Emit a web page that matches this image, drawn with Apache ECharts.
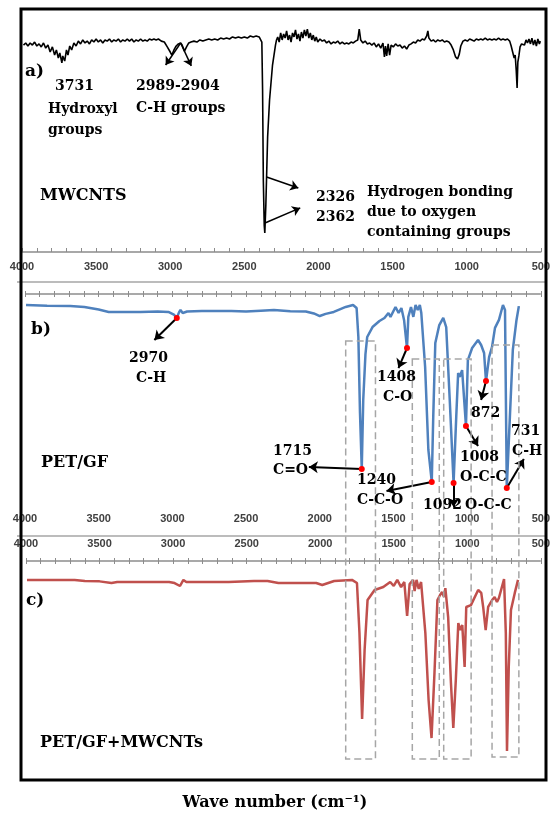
<!DOCTYPE html>
<html><head><meta charset="utf-8">
<script src="https://cdn.jsdelivr.net/npm/echarts@6/dist/echarts.min.js"></script>
<style>html,body{margin:0;padding:0;background:#fff}#c{width:553px;height:816px}</style>
</head><body><div id="c"></div>
<script>
// ---------- DATA ----------
const waveMin = 500, waveMax = 4000, waveStep = 500;

// a) MWCNTs  [wavenumber, transmittance]
const mwcnts = [
[3990,89.2],[3975,90.1],[3960,88.8],[3945,90.1],[3930,89.2],[3915,90.5],[3900,88.8],[3885,89.7],[3870,88.4],[3855,90.1],
[3840,87.9],[3825,89.2],[3810,86.2],[3795,88.4],[3780,84.9],[3768,87.1],[3755,83.6],[3745,85.8],[3731,81.5],[3725,84.5],
[3712,82.3],[3700,87.1],[3690,84.9],[3678,88.8],[3665,87.1],[3650,90.1],[3635,88.8],[3620,90.9],[3605,89.7],[3590,91.4],
[3575,90.1],[3560,90.9],[3545,89.7],[3530,91.4],[3515,90.5],[3500,91.8],[3485,90.5],[3470,91.4],[3455,90.1],[3440,91.4],
[3425,90.9],[3410,91.8],[3395,90.5],[3380,91.4],[3365,90.9],[3350,91.8],[3335,90.5],[3320,91.4],[3305,90.9],[3290,91.8],
[3275,90.9],[3260,91.8],[3245,90.5],[3230,91.4],[3215,90.9],[3200,91.8],[3185,90.9],[3170,91.4],[3155,90.9],[3140,91.8],
[3125,91.4],[3110,91.8],[3095,91.4],[3080,91.8],[3060,90.9],[3040,90.5],[3020,88.4],[3000,86.2],[2989,84.9],[2975,87.1],
[2960,88.8],[2945,89.7],[2930,90.1],[2920,89.2],[2904,86.6],[2890,88.4],[2875,90.1],[2860,90.5],[2840,90.9],[2820,90.5],
[2800,91.4],[2780,90.9],[2760,91.4],[2740,91.8],[2720,91.4],[2700,91.8],[2680,91.4],[2660,92.2],[2640,91.8],[2620,92.2],
[2600,91.8],[2580,92.7],[2560,92.2],[2540,92.7],[2520,92.2],[2500,92.7],[2480,92.2],[2460,93.1],[2440,92.7],[2420,93.1],
[2400,92.7],[2388,92.2],[2382,90.5],[2377,69.8],[2372,31.0],[2366,11.6],[2362,8.2],[2355,20.3],[2350,32.3],[2343,49.6],
[2330,65.5],[2310,80.6],[2290,89.2],[2283,91.4],[2275,92.7],[2265,90.5],[2255,94.4],[2245,91.4],[2235,94.0],[2225,92.2],
[2215,95.3],[2205,91.4],[2195,93.5],[2185,90.5],[2175,94.4],[2165,92.7],[2155,95.7],[2145,91.8],[2135,94.0],[2125,90.9],
[2115,94.8],[2105,92.2],[2095,95.7],[2085,93.1],[2075,96.1],[2065,92.2],[2055,94.4],[2045,91.4],[2035,93.5],[2025,90.9],
[2015,92.7],[2005,90.5],[1990,91.8],[1975,90.9],[1960,91.4],[1945,90.1],[1930,90.9],[1915,89.7],[1900,90.5],[1885,90.1],
[1870,90.9],[1855,89.7],[1840,90.5],[1825,89.7],[1810,90.1],[1795,89.7],[1780,90.5],[1765,90.1],[1750,90.9],[1735,91.4],
[1725,96.1],[1715,91.4],[1700,90.1],[1685,90.9],[1670,89.7],[1655,90.1],[1640,89.2],[1625,90.1],[1610,88.4],[1595,89.7],
[1580,87.9],[1565,90.1],[1555,84.1],[1548,88.8],[1540,84.5],[1530,89.7],[1520,84.9],[1510,89.2],[1495,88.4],[1480,89.7],
[1465,88.8],[1450,89.2],[1435,87.9],[1420,88.8],[1405,87.5],[1390,89.2],[1375,89.7],[1360,90.5],[1345,90.1],[1330,91.4],
[1315,90.9],[1300,91.8],[1285,91.4],[1270,93.1],[1262,95.3],[1255,92.2],[1240,90.9],[1225,91.4],[1210,90.5],[1195,91.4],
[1180,90.9],[1165,91.4],[1150,90.5],[1135,90.9],[1120,90.5],[1105,89.2],[1090,87.1],[1075,84.1],[1062,83.2],[1050,85.3],
[1040,88.8],[1025,90.9],[1010,91.4],[995,90.9],[980,91.8],[965,91.4],[950,90.9],[935,91.8],[920,91.4],[905,91.8],
[890,91.4],[875,92.2],[860,91.4],[845,91.8],[830,91.4],[815,91.8],[800,91.4],[785,92.2],[770,91.4],[755,91.8],
[740,91.4],[725,91.8],[710,90.9],[700,88.8],[690,86.2],[680,83.6],[673,84.9],[666,78.4],[660,70.7],[655,81.9],
[648,84.5],[640,88.4],[630,89.7],[620,90.5],[610,89.2],[600,91.4],[590,90.1],[580,91.8],[570,89.7],[560,92.2],
[550,89.2],[540,91.4],[530,88.8],[520,91.8],[510,89.7],[503,90.9]
];

// b) PET/GF
const petgf = [
[3993,94.9],[3850,94.6],[3693,94.4],[3597,94.0],[3500,92.8],[3432,91.7],[3300,91.7],[3216,91.7],[3100,91.9],[3027,91.7],
[2990,90.5],[2970,88.9],[2955,91.5],[2945,92.6],[2930,91.2],[2900,91.9],[2800,92.1],[2737,92.1],[2600,92.1],[2500,91.9],
[2400,92.3],[2311,92.6],[2200,92.0],[2095,91.9],[2040,91.0],[2000,89.8],[1960,90.8],[1905,91.7],[1860,93.0],[1824,94.0],
[1774,94.9],[1750,93.5],[1738,80.1],[1727,45.0],[1715,19.0],[1705,50.9],[1690,72.0],[1678,80.1],[1642,84.7],[1595,87.5],
[1561,88.9],[1534,91.2],[1520,89.4],[1486,94.0],[1465,91.2],[1446,93.5],[1428,88.0],[1408,75.0],[1399,89.4],[1381,94.0],
[1365,89.4],[1350,94.9],[1335,92.6],[1321,94.9],[1311,91.2],[1285,66.2],[1263,27.8],[1240,13.0],[1230,43.0],[1216,77.3],
[1189,85.6],[1162,88.9],[1142,84.7],[1118,50.9],[1092,12.5],[1074,43.0],[1061,63.4],[1050,61.6],[1034,64.8],[1008,38.9],
[995,69.4],[966,75.0],[926,78.7],[905,76.4],[885,72.7],[872,59.7],[851,70.8],[831,75.5],[811,84.3],[784,88.0],
[757,94.9],[743,92.6],[731,10.2],[710,43.0],[690,74.1],[665,88.0],[649,94.4]
];

// c) PET/GF+MWCNTs
const petgfMw = [
[3993,91.0],[3800,91.0],[3669,91.0],[3600,90.5],[3500,90.3],[3419,89.5],[3380,90.0],[3200,90.0],[3027,90.0],[2990,89.5],
[2953,88.1],[2930,91.0],[2910,90.0],[2750,90.0],[2622,90.0],[2450,90.5],[2358,90.5],[2284,89.5],[2150,89.5],[2027,89.5],
[1986,88.6],[1905,90.5],[1784,91.0],[1750,89.5],[1733,65.7],[1715,24.8],[1698,57.6],[1678,81.4],[1630,86.2],[1571,87.6],
[1524,90.0],[1500,88.1],[1476,91.0],[1450,87.6],[1428,90.0],[1409,73.8],[1392,89.0],[1368,91.0],[1358,85.7],[1345,91.0],
[1330,86.7],[1314,90.0],[1285,65.7],[1263,33.8],[1243,15.7],[1223,46.7],[1203,81.4],[1185,83.8],[1171,85.2],[1159,82.9],
[1149,87.1],[1130,73.3],[1111,41.9],[1095,20.5],[1078,43.3],[1061,70.5],[1048,67.1],[1034,69.5],[1018,49.5],[1007,78.1],
[975,79.0],[926,86.2],[905,84.8],[892,78.1],[875,67.1],[858,78.1],[831,81.4],[814,82.9],[798,80.5],[785,82.4],
[750,91.4],[738,65.7],[730,9.5],[718,49.5],[703,76.7],[677,84.8],[655,91.0]
];

// annotated peaks of b) and where their arrows point
const peaksB = [2970, 1715, 1408, 1240, 1092, 1008, 872, 731];
const arrowEndsB = [[3122,78.7],[2074,19.9],[1466,65.7],[1547,8.8],[1092,1.4],[926,29.6],[905,50.9],[615,23.6]];
// a) arrows: [fromWave, fromT, toWave, toT]
const arrowsA = [[2930,90.1,3031,80.6],[2930,90.1,2858,80.2],[2350,32.3,2136,27.6],[2361,12.5,2123,19.0]];
// highlighted wavenumber bands (dashed boxes)
const bands = [[1824,1622],[1372,1189],[1159,973],[831,649]];

// ---------- CHART ----------
const chart = echarts.init(document.getElementById('c'), null, {renderer:'canvas'});
const valAt = (d, w) => { const p = d.find(q => q[0] === w); return p ? p[1] : 0; };
const SERIF = '"DejaVu Serif"';
const lblStyle = {fontSize:11, fontWeight:'bold', color:'#404040', fontFamily:'"Liberation Sans", Arial',
                  formatter: v => String(v), showMinLabel:true, showMaxLabel:true};
const tickCol = '#8c8c8c';
function xa(extra){
  return Object.assign({type:'value', min:waveMin, max:waveMax, interval:waveStep, inverse:true,
    splitLine:{show:false}, axisLine:{show:false, onZero:false},
    axisTick:{show:false}, minorTick:{show:false},
    axisLabel:Object.assign({}, lblStyle, {show:false})}, extra);
}
const xAxes = [
  // a) bottom axis, ticks pointing up
  xa({gridIndex:0, position:'bottom', axisLine:{show:true, onZero:false, lineStyle:{color:tickCol, width:1.5}},
      axisTick:{show:true, inside:true, length:4, lineStyle:{color:tickCol}},
      minorTick:{show:true, splitNumber:5, length:4, lineStyle:{color:tickCol}},
      axisLabel:Object.assign({}, lblStyle, {show:true, margin:9})}),
  // b) top axis: crossing ticks (shifted down 3 px, ticks 6 px long outward)
  xa({gridIndex:1, position:'top', offset:-3,
      axisTick:{show:true, inside:false, length:6, lineStyle:{color:tickCol}},
      minorTick:{show:true, splitNumber:5, length:6, lineStyle:{color:tickCol}}}),
  // b) labels at the bottom
  xa({gridIndex:1, position:'bottom', axisLabel:Object.assign({}, lblStyle, {show:true, margin:3})}),
  // c) top axis with crossing ticks and labels above
  xa({gridIndex:2, position:'top', offset:-3,
      axisTick:{show:true, inside:false, length:6, lineStyle:{color:tickCol}},
      minorTick:{show:true, splitNumber:5, length:6, lineStyle:{color:tickCol}},
      axisLabel:Object.assign({}, lblStyle, {show:true, margin:15})})
];
const yAxes = [0,1,2].map(i => ({gridIndex:i, type:'value', min:0, max:100, show:false}));

function T(txt, x, y, size){
  return {type:'text', x:x, y:y, z:100,
    style:{text:txt, font:'bold '+(size||14)+'px '+SERIF, fill:'#000', align:'left', verticalAlign:'middle',
           textAlign:'left', textVerticalAlign:'middle'}};
}
const texts = [
  T('a)',25,72,17), T('3731',55,86), T('Hydroxyl',48,109), T('groups',48,130),
  T('2989-2904',136,86), T('C-H groups',136,108), T('MWCNTS',40,196,16),
  T('2326',316,197), T('2362',316,217), T('Hydrogen bonding',367,192), T('due to oxygen',367,212), T('containing groups',367,232),
  T('b)',31,330,17), T('2970',129,358), T('C-H',136,378), T('1408',377,377), T('C-O',383,397), T('872',471,413),
  T('1715',273,451), T('C=O',273,470), T('1240',357,480), T('C-C-O',357,500), T('1008',460,457), T('O-C-C',460,477),
  T('1092',423,505), T('O-C-C',465,505), T('731',511,431), T('C-H',512,451), T('PET/GF',41,463,16),
  T('c)',26,601,17), T('PET/GF+MWCNTs',40,743,16),
  {type:'text', x:275, y:803, z:100, style:{text:'Wave number (cm\u207B\u00B9)', font:'bold 16px '+SERIF, fill:'#000',
     align:'center', verticalAlign:'middle', textAlign:'center', textVerticalAlign:'middle'}}
];

const arrowLine = {color:'#000', width:2, type:'solid'};
chart.setOption({
  animation:false,
  backgroundColor:'#fff',
  grid:[
    {left:22, right:7, top:20, height:232},
    {left:25, right:10, top:294, height:216},
    {left:26, right:10, top:561, height:210}
  ],
  xAxis:xAxes, yAxis:yAxes,
  series:[
    {type:'line', xAxisIndex:0, yAxisIndex:0, data:mwcnts, showSymbol:false, silent:true,
     lineStyle:{color:'#000', width:1.6}, itemStyle:{color:'#000'},
     markLine:{silent:true, symbol:['none','arrow'], symbolSize:8, label:{show:false}, lineStyle:{color:'#000', width:1.5, type:'solid'},
       data:arrowsA.map(a => [{coord:[a[0],a[1]]},{coord:[a[2],a[3]]}])}},
    {type:'line', xAxisIndex:1, yAxisIndex:1, data:petgf, showSymbol:false, silent:true,
     lineStyle:{color:'#4F81BD', width:2.5}, itemStyle:{color:'#4F81BD'},
     markLine:{silent:true, symbol:['none','arrow'], symbolSize:9, label:{show:false}, lineStyle:arrowLine,
       data:peaksB.map((w,i) => [{coord:[w, valAt(petgf,w)]},{coord:arrowEndsB[i]}])},
     markPoint:{silent:true, symbol:'circle', symbolSize:6, itemStyle:{color:'#FF0000'}, label:{show:false},
       data:peaksB.map(w => ({coord:[w, valAt(petgf,w)]}))}},
    {type:'line', xAxisIndex:3, yAxisIndex:2, data:petgfMw, showSymbol:false, silent:true,
     lineStyle:{color:'#C0504D', width:2.5}, itemStyle:{color:'#C0504D'}}
  ]
});

// decorations: axis lines of b) and c), separator lines, dashed band boxes, frame
const xb0 = chart.convertToPixel({xAxisIndex:1}, waveMax), xb1 = chart.convertToPixel({xAxisIndex:1}, waveMin);
const xc0 = chart.convertToPixel({xAxisIndex:3}, waveMax), xc1 = chart.convertToPixel({xAxisIndex:3}, waveMin);
const axisLines = [[xb0, xb1, 294], [xc0, xc1, 561]].map(a => ({type:'line', z:40,
  shape:{x1:a[0], y1:a[2], x2:a[1], y2:a[2]}, style:{stroke:tickCol, lineWidth:1.5}}));
const boxTops = [341, 359, 359, 345], boxBottoms = [759, 759, 759, 757];
const boxes = bands.map((b,i) => {
  const x1 = chart.convertToPixel({xAxisIndex:1}, b[0]);
  const x2 = chart.convertToPixel({xAxisIndex:1}, b[1]);
  return {type:'rect', z:50, shape:{x:Math.min(x1,x2), y:boxTops[i], width:Math.abs(x2-x1), height:boxBottoms[i]-boxTops[i]},
    style:{fill:'none', stroke:'#A6A6A6', lineWidth:1.5, lineDash:[7,4]}};
});
const seps = [282, 536].map(y => ({type:'line', z:40, shape:{x1:17, y1:y, x2:546, y2:y}, style:{stroke:'#A6A6A6', lineWidth:1.5}}));
const frame = {type:'rect', z:200, shape:{x:21, y:9, width:525, height:771}, style:{fill:'none', stroke:'#000', lineWidth:3}};
chart.setOption({graphic:[].concat(axisLines, seps, boxes, texts, [frame])});
</script>
</body></html>
